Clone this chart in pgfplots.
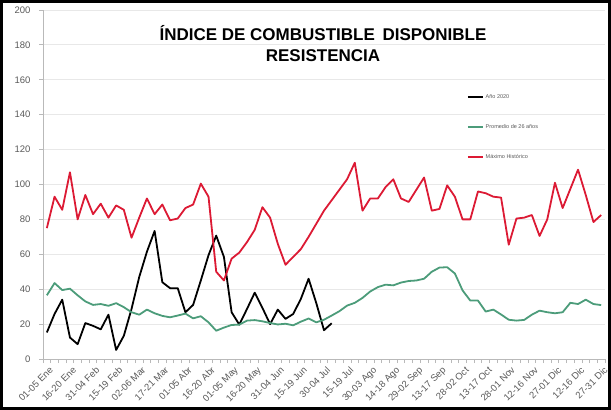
\documentclass[border=0pt]{standalone}
\usepackage{fontspec}
\setmainfont{Liberation Sans}
\usepackage{pgfplots}
\pgfplotsset{compat=1.18}
\usepackage{pgfplotstable}

\definecolor{redline}{RGB}{220,26,52}
\definecolor{greenline}{RGB}{76,156,122}
\definecolor{ticktext}{RGB}{89,89,89}
\definecolor{gridc}{RGB}{232,232,232}
\definecolor{axisc}{RGB}{185,185,185}

\pgfplotstableread{
i red green
0 75 36.5
1 93 43.5
2 85.5 39.5
3 107 40.3
4 80 36.5
5 94 33
6 83 31
7 89 31.5
8 81 30.5
9 88 32
10 85.5 29.7
11 69.5 26.8
12 81 25.4
13 92 28.3
14 83 26.2
15 88.5 24.7
16 79.5 23.9
17 80.5 24.9
18 86.5 26
19 88.5 23.3
20 100.5 24.5
21 93 21
22 50 16.2
23 45 18
24 57.5 19.5
25 61 19.7
26 67 22
27 74 22.3
28 87 21.6
29 81 20.6
30 66 19.8
31 54 20.2
32 58.5 19.3
33 63 21.4
34 70 23.2
35 77.5 21
36 85 22.5
37 91 24.9
38 97 27.4
39 103 30.6
40 112.5 32.2
41 85 35
42 92 38.7
43 92 41.2
44 98.5 42.6
45 103 42.2
46 92 43.8
47 90 44.7
48 97 45
49 104 46
50 85 50
51 86 52.4
52 99.5 52.6
53 93 49
54 80 39.3
55 80 33.5
56 96 33.5
57 95 27.2
58 93 28.3
59 92.5 25.5
60 65.5 22.5
61 80.5 22
62 81 22.4
63 82.5 25.4
64 70.5 27.7
65 80 26.8
66 101 26.2
67 86.5 26.8
68 97.5 32.2
69 108.5 31.5
70 94 34
71 78.5 31.5
72 82.5 30.9
}\tblmain

\pgfplotstableread{
i val
0 15.2
1 25.8
2 34
3 12.3
4 8.5
5 20.6
6 19
7 17
8 25.4
9 5.2
10 13.3
11 28.7
12 47
13 61.5
14 73.4
15 44
16 40.6
17 40.6
18 26.8
19 31
20 45
21 59.5
22 70.7
23 58.5
24 26.8
25 19.7
26 28.7
27 38
28 29.3
29 20
30 28.3
31 23
32 25.8
33 34.5
34 46
35 32
36 16.5
37 20.5
}\tblblack

\begin{document}
\begin{tikzpicture}[x=1pt,y=1pt]
\path[use as bounding box] (0,0) rectangle (611,410);
\begin{axis}[
  at={(43pt,51pt)}, anchor=south west,
  scale only axis, width=562pt, height=349pt,
  xmin=-0.5, xmax=72.5, ymin=0, ymax=200,
  ytick={0,20,...,200},
  ymajorgrids, grid style={gridc, line width=0.8pt},
  axis x line*=bottom, axis y line*=left,
  axis line style={axisc, line width=0.8pt},
  xtick={0,3,...,72},
  xticklabels={01-05 Ene,16-20 Ene,31-04 Feb,15-19 Feb,02-06 Mar,17-21 Mar,01-05 Abr,16-20 Abr,01-05 May,16-20 May,31-04 Jun,15-19 Jun,30-04 Jul,15-19 Jul,30-03 Ago,14-18 Ago,29-02 Sep,13-17 Sep,28-02 Oct,13-17 Oct,28-01 Nov,12-16 Nov,27-01 Dic,12-16 Dic,27-31 Dic},
  minor xtick={-0.5,0.5,...,72.5},
  every major x tick/.append style={draw=none},
  tick style={axisc, line width=0.8pt},
  tick align=outside,
  major tick length=4pt, minor tick length=4pt,
  /pgf/number format/assume math mode=true,
  x tick label style={rotate=45, anchor=north east, font=\fontsize{9.5}{11}\selectfont, text=ticktext, inner sep=0.5pt, yshift=-3pt},
  y tick label style={font=\fontsize{9.5}{11}\selectfont, text=ticktext, xshift=-5pt},
  legend style={at={(0.754,0.765)}, anchor=north west, draw=none, fill=none,
    font=\fontsize{5.5}{6.5}\selectfont, text=ticktext, row sep=20.5pt, inner sep=0pt},
  legend cell align=left,
  legend image code/.code={\draw[#1, line width=1.8pt] (0pt,0pt) -- (15pt,0pt);},
  every axis plot/.append style={line width=1.8pt, line join=round, mark=none},
]
\addplot[black] table[x=i, y=val] {\tblblack};
\addlegendentry{Año 2020}
\addplot[greenline] table[x=i, y=green] {\tblmain};
\addlegendentry{Promedio de 26 años}
\addplot[redline] table[x=i, y=red] {\tblmain};
\addlegendentry{Máximo Histórico}
\end{axis}
\node[anchor=base, font=\fontsize{17}{20}\selectfont\bfseries] at (323,369) {ÍNDICE DE COMBUSTIBLE\hspace{0.45em}DISPONIBLE};
\node[anchor=base, font=\fontsize{17}{20}\selectfont\bfseries] at (323,348) {RESISTENCIA};
\draw[line width=3pt] (1.5,1.5) rectangle (609.5,408.5);
\end{tikzpicture}
\end{document}
